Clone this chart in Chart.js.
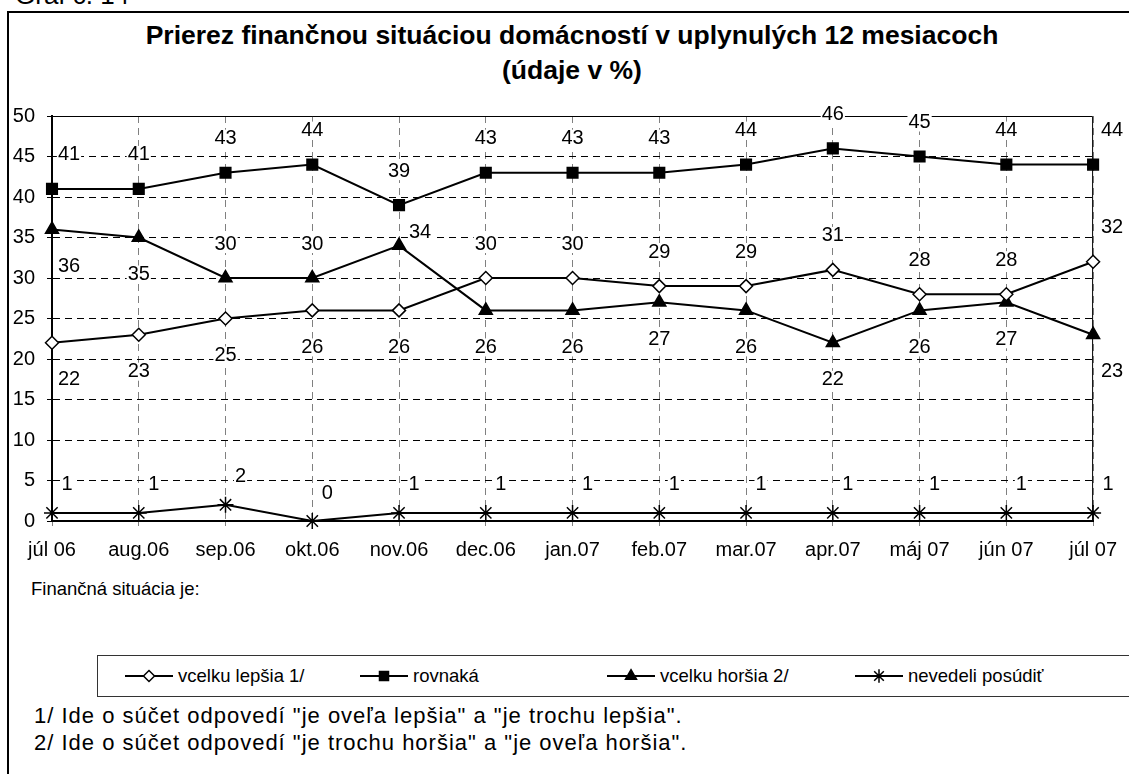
<!DOCTYPE html>
<html>
<head>
<meta charset="utf-8">
<script src="https://cdn.jsdelivr.net/npm/chart.js@4/dist/chart.umd.min.js"></script>
<style>
  body { margin: 0; background: #fff; font-family: "Liberation Sans", Arial, sans-serif; color: #000; }
  #page { position: relative; width: 1129px; height: 774px; overflow: hidden; }
  #frame { position: absolute; left: 7px; top: 11px; width: 1140px; height: 800px; border-left: 2px solid #000; border-top: 2px solid #000; }
  #graf { position: absolute; left: 15px; top: -18px; font-size: 26px; line-height: 26px; white-space: nowrap; }
  #title { position: absolute; left: 0; width: 1144px; top: 18px; text-align: center; font-weight: bold; font-size: 26.5px; line-height: 35px; }
  #chartBox { position: absolute; left: 0; top: 0; width: 1129px; height: 575px; }
  #caption { position: absolute; left: 31px; top: 578px; font-size: 18.5px; line-height: 22px; white-space: nowrap; }
  #legend { position: absolute; left: 97px; top: 655px; width: 1100px; height: 40px; border: 1px solid #333; }
  .item { position: absolute; top: 0; height: 40px; display: flex; align-items: center; font-size: 18.5px; white-space: nowrap; }
  .item canvas { margin-right: 5px; }
  .note { position: absolute; left: 34px; font-size: 22px; line-height: 26px; letter-spacing: 1px; white-space: nowrap; }
</style>
</head>
<body>
<div id="page">
  <div id="graf">Graf č. 14</div>
  <div id="frame"></div>
  <div id="title">Prierez finančnou situáciou domácností v uplynulých 12 mesiacoch<br>(údaje v %)</div>
  <div id="chartBox"><canvas id="myChart"></canvas></div>
  <div id="caption">Finančná situácia je:</div>
  <div id="legend"></div>
  <div class="note" style="top:703px">1/ Ide o súčet odpovedí "je oveľa lepšia" a "je trochu lepšia".</div>
  <div class="note" style="top:730px">2/ Ide o súčet odpovedí "je trochu horšia" a "je oveľa horšia".</div>
</div>
<script>
// data
var months = ['júl 06', 'aug.06', 'sep.06', 'okt.06', 'nov.06', 'dec.06', 'jan.07', 'feb.07', 'mar.07', 'apr.07', 'máj 07', 'jún 07', 'júl 07'];
var lepsia = [22, 23, 25, 26, 26, 30, 30, 29, 29, 31, 28, 28, 32];
var rovnaka = [41, 41, 43, 44, 39, 43, 43, 43, 44, 46, 45, 44, 44];
var horsia = [36, 35, 30, 30, 34, 26, 26, 27, 26, 22, 26, 27, 23];
var nevedeli = [1, 1, 2, 0, 1, 1, 1, 1, 1, 1, 1, 1, 1];
var yTicks = [0, 5, 10, 15, 20, 25, 30, 35, 40, 45, 50];

// where each value label sits: a = above, b = below, r = right, ar = above right
var lepsiaPos = ['b', 'b', 'b', 'b', 'b', 'a', 'a', 'a', 'a', 'a', 'a', 'a', 'a'];
var rovnakaPos = ['a', 'a', 'a', 'a', 'a', 'a', 'a', 'a', 'a', 'a', 'a', 'a', 'a'];
var horsiaPos = ['b', 'b', 'a', 'a', 'r', 'b', 'b', 'b', 'b', 'b', 'b', 'b', 'b'];
var nevedeliPos = ['ar', 'ar', 'ar', 'ar', 'ar', 'ar', 'ar', 'ar', 'ar', 'ar', 'ar', 'ar', 'ar'];

var labelOffset = {
    a: [0, -34],
    b: [0, 37],
    r: [21, -13],
    ar: [15, -28]
};

function makeSet(label, values, pos, style, radius, fill) {
    return {
        label: label,
        data: values,
        labelPos: pos,
        borderColor: '#000',
        borderWidth: 2,
        pointStyle: style,
        pointRadius: radius,
        pointHoverRadius: radius,
        pointBackgroundColor: fill,
        pointBorderColor: '#000',
        pointBorderWidth: 1.5,
        tension: 0,
        clip: false
    };
}

var datasets = [
    makeSet('vcelku lepšia 1/', lepsia, lepsiaPos, 'rectRot', 6.5, '#fff'),
    makeSet('rovnaká', rovnaka, rovnakaPos, 'rect', 7.5, '#000'),
    makeSet('vcelku horšia 2/', horsia, horsiaPos, 'triangle', 7.5, '#000'),
    makeSet('nevedeli posúdiť', nevedeli, nevedeliPos, 'star', 8, '#000')
];

// solid top and right edge of the plot area
var plotFrame = {
    id: 'plotFrame',
    beforeDatasetsDraw: function (chart) {
        var a = chart.chartArea, ctx = chart.ctx;
        ctx.save();
        ctx.strokeStyle = '#000';
        ctx.lineWidth = 1;
        ctx.setLineDash([]);
        ctx.beginPath();
        ctx.moveTo(a.left, a.top + 0.5);
        ctx.lineTo(a.right - 0.5, a.top + 0.5);
        ctx.lineTo(a.right - 0.5, a.bottom);
        ctx.stroke();
        ctx.restore();
    }
};

// value labels next to the points
var valueLabels = {
    id: 'valueLabels',
    afterDatasetsDraw: function (chart) {
        var ctx = chart.ctx;
        ctx.save();
        ctx.font = '20px "Liberation Sans", Arial, sans-serif';
        ctx.textAlign = 'center';
        ctx.textBaseline = 'middle';
        chart.data.datasets.forEach(function (ds, di) {
            var meta = chart.getDatasetMeta(di);
            meta.data.forEach(function (pt, i) {
                var off = labelOffset[ds.labelPos[i]];
                var dx = off[0], dy = off[1];
                if (i === 0 && ds.labelPos[i] !== 'ar') dx += 17;
                if (i === meta.data.length - 1 && ds.labelPos[i] !== 'ar') dx += 19;
                var txt = String(ds.data[i]);
                var x = pt.x + dx, y = pt.y + dy;
                var w = ctx.measureText(txt).width;
                ctx.fillStyle = '#fff';
                ctx.fillRect(x - w / 2 - 1, y - 9, w + 2, 18);
                ctx.fillStyle = '#000';
                ctx.fillText(txt, x, y);
            });
        });
        ctx.restore();
    }
};

var ctx = document.getElementById('myChart').getContext('2d');
var myChart = new Chart(ctx, {
    type: 'line',
    data: { labels: months, datasets: datasets },
    options: {
        responsive: true,
        maintainAspectRatio: false,
        animation: false,
        layout: { padding: { left: 8, top: 116, right: 31, bottom: 14 } },
        plugins: {
            legend: { display: false },
            tooltip: { enabled: false }
        },
        scales: {
            x: {
                offset: false,
                afterFit: function (scale) { scale.height = 40; },
                grid: {
                    color: '#808080',
                    lineWidth: 1,
                    tickLength: 5,
                    tickColor: '#808080'
                },
                border: { display: true, color: '#000', width: 2, dash: [7, 5] },
                ticks: {
                    color: '#000',
                    padding: 12,
                    maxRotation: 0,
                    autoSkip: false,
                    font: { family: '"Liberation Sans", Arial, sans-serif', size: 20 }
                }
            },
            y: {
                min: 0,
                max: 50,
                afterFit: function (scale) { scale.width = 44; },
                afterBuildTicks: function (scale) {
                    scale.ticks = yTicks.map(function (v) { return { value: v }; });
                },
                grid: {
                    color: '#000',
                    lineWidth: 1,
                    tickLength: 5,
                    tickColor: '#000'
                },
                border: { display: true, color: '#000', width: 2, dash: [7, 5] },
                ticks: {
                    color: '#000',
                    padding: 12,
                    font: { family: '"Liberation Sans", Arial, sans-serif', size: 20 }
                }
            }
        }
    },
    plugins: [plotFrame, valueLabels]
});

// legend built from the datasets: a short line with the marker, then the text
var legendLefts = [125, 360, 607, 855];
var legendBox = document.getElementById('legend');
myChart.data.datasets.forEach(function (ds, i) {
    var item = document.createElement('div');
    item.className = 'item';
    item.style.left = (legendLefts[i] - 98) + 'px';
    var c = document.createElement('canvas');
    c.width = 48;
    c.height = 20;
    var g = c.getContext('2d');
    g.strokeStyle = '#000';
    g.lineWidth = 2;
    g.beginPath();
    g.moveTo(0, 10);
    g.lineTo(48, 10);
    g.stroke();
    g.fillStyle = ds.pointBackgroundColor;
    g.lineWidth = 1.5;
    Chart.helpers.drawPoint(g, { pointStyle: ds.pointStyle, radius: ds.pointRadius * 0.85, rotation: 0, borderWidth: 1.5 }, 24, 10);
    item.appendChild(c);
    var t = document.createElement('span');
    t.textContent = ds.label;
    item.appendChild(t);
    legendBox.appendChild(item);
});
</script>
</body>
</html>
